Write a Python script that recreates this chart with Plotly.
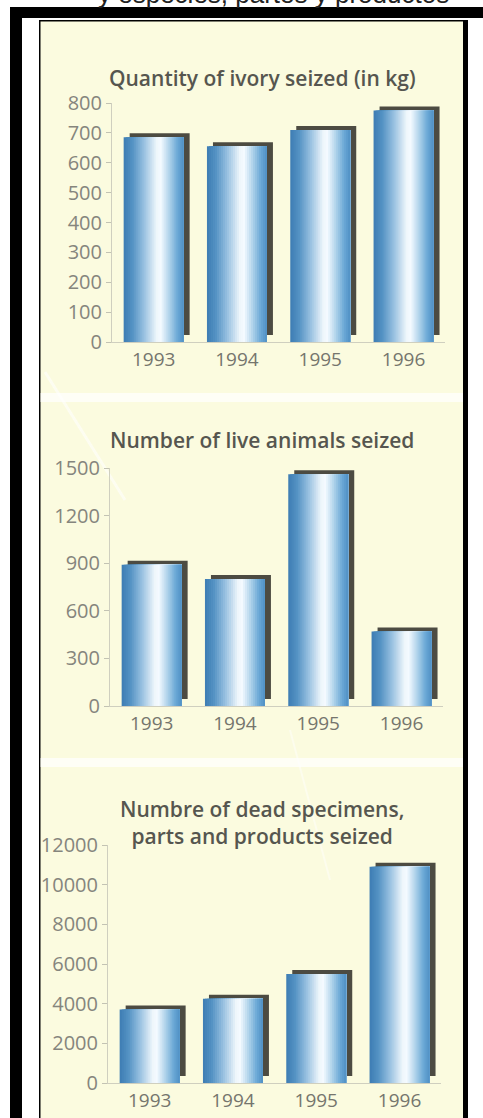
import plotly.graph_objects as go

# ---- data -------------------------------------------------------------
years = ["1993", "1994", "1995", "1996"]

ivory_kg = [685, 655, 710, 775]
live_animals = [890, 800, 1460, 470]
dead_specimens = [3700, 4250, 5500, 10900]

ivory_ticks = [0, 100, 200, 300, 400, 500, 600, 700, 800]
live_ticks = [0, 300, 600, 900, 1200, 1500]
dead_ticks = [0, 2000, 4000, 6000, 8000, 10000, 12000]

titles = [
    "Quantity of ivory seized (in kg)",
    "Number of live animals seized",
    "Numbre of dead specimens,<br>parts and products seized",
]
header_text = "y especies, partes y productos"

# ---- page geometry (pixels) ------------------------------------------
W, H = 483, 1118


def px(x):
    return x / W


def py(y):
    return 1 - y / H


# cylinder shading across each bar, left -> right
shade = [
    (0.00, (61, 125, 179)),
    (0.15, (85, 147, 196)),
    (0.35, (156, 195, 226)),
    (0.55, (238, 246, 251)),
    (0.62, (244, 250, 255)),
    (0.75, (181, 214, 236)),
    (0.90, (106, 168, 214)),
    (1.00, (79, 144, 196)),
]


def shade_at(t):
    for (t0, c0), (t1, c1) in zip(shade[:-1], shade[1:]):
        if t0 <= t <= t1:
            f = (t - t0) / (t1 - t0)
            r, g, b = (round(a + (b_ - a) * f) for a, b_ in zip(c0, c1))
            return f"rgb({r},{g},{b})"
    return "rgb(79,144,196)"


BAR_W = 0.72          # bar width in category units
SLICES = 30
SHADOW = "#4c4b42"

panels = [
    # values, ticks, y max, x axis left px, y of zero px, y of max px, title y px
    (ivory_kg, ivory_ticks, 800, 112, 342, 103, [78]),
    (live_animals, live_ticks, 1500, 110, 706, 468, [440]),
    (dead_specimens, dead_ticks, 12000, 108, 1083, 845, [810, 834]),
]

fig = go.Figure()
layout = dict(
    width=W,
    height=H,
    margin=dict(l=0, r=0, t=0, b=0, autoexpand=False),
    paper_bgcolor="white",
    plot_bgcolor="rgba(0,0,0,0)",
    showlegend=False,
    barmode="overlay",
    font=dict(family="Open Sans", color="#7c7c74"),
)

band_px = 83.3
for i, (vals, ticks, ymax, x0, y0, y1, ty) in enumerate(panels):
    n = "" if i == 0 else str(i + 1)
    xa, ya = "x" + n, "y" + n
    unit = ymax / (y0 - y1)       # data units per pixel
    dx = 6 / band_px              # shadow shift in category units

    # drop shadow: shifted right and up
    fig.add_trace(go.Bar(
        x=years, y=[v + 4 * unit - 7 * unit for v in vals],
        base=[7 * unit] * len(vals),
        width=BAR_W, offset=-BAR_W / 2 + dx,
        marker=dict(color=SHADOW, line=dict(width=0)),
        xaxis=xa, yaxis=ya, hoverinfo="skip",
    ))
    # shading: each slice runs from its left edge to the bar's right edge,
    # later slices cover earlier ones so no gaps appear between them
    step = BAR_W / SLICES
    for k in range(SLICES):
        fig.add_trace(go.Bar(
            x=years, y=vals, width=BAR_W - k * step,
            offset=-BAR_W / 2 + k * step,
            marker=dict(color=shade_at((k + 0.5) / SLICES), line=dict(width=0)),
            xaxis=xa, yaxis=ya, hoverinfo="skip",
        ))

    x_right = x0 + 4 * band_px
    layout["xaxis" + n] = dict(
        domain=[px(x0), px(x_right)], anchor=ya, type="category",
        range=[-0.5, 3.5], showline=True, linecolor="#cfcfbf", linewidth=1,
        ticks="", showgrid=False, zeroline=False, fixedrange=True,
        automargin=False, tickfont=dict(size=19, color="#75756d"),
    )
    layout["yaxis" + n] = dict(
        domain=[py(y0), py(y1)], anchor=xa, range=[0, ymax],
        tickvals=ticks, ticktext=[str(t) for t in ticks],
        ticks="outside", ticklen=5, tickcolor="#c3c3b3",
        showline=True, linecolor="#cfcfbf", linewidth=1,
        showgrid=False, zeroline=False, fixedrange=True,
        automargin=False, tickfont=dict(size=20, color="#85857d"),
    )

fig.update_layout(**layout)

# ---- frame and background --------------------------------------------
shapes = [
    # cream panel with its thin dark edge
    dict(type="rect", xref="paper", yref="paper", layer="below",
         x0=px(39), x1=px(468), y0=py(H), y1=py(20),
         fillcolor="black", line=dict(width=0)),
    dict(type="rect", xref="paper", yref="paper", layer="below",
         x0=px(40.5), x1=px(463), y0=py(H), y1=py(21.5),
         fillcolor="#fbfbdf", line=dict(width=0)),
    # soft light bands between the panels
    dict(type="rect", xref="paper", yref="paper", layer="below",
         x0=px(40.5), x1=px(463), y0=py(402), y1=py(393),
         fillcolor="rgba(255,255,255,0.7)", line=dict(width=0)),
    dict(type="rect", xref="paper", yref="paper", layer="below",
         x0=px(40.5), x1=px(463), y0=py(767), y1=py(758),
         fillcolor="rgba(255,255,255,0.7)", line=dict(width=0)),
    # faint diagonal streaks in the backdrop
    dict(type="line", xref="paper", yref="paper", layer="below",
         x0=px(45), y0=py(372), x1=px(125), y1=py(500),
         line=dict(color="rgba(255,255,255,0.55)", width=3)),
    dict(type="line", xref="paper", yref="paper", layer="below",
         x0=px(290), y0=py(730), x1=px(330), y1=py(880),
         line=dict(color="rgba(255,255,255,0.45)", width=2)),
    # heavy black border: top and left
    dict(type="rect", xref="paper", yref="paper", layer="below",
         x0=px(10), x1=px(W), y0=py(18), y1=py(7),
         fillcolor="black", line=dict(width=0)),
    dict(type="rect", xref="paper", yref="paper", layer="below",
         x0=px(10), x1=px(22), y0=py(H), y1=py(7),
         fillcolor="black", line=dict(width=0)),
]
fig.update_layout(shapes=shapes)

annotations = []
for (vals, ticks, ymax, x0, y0, y1, ty), title in zip(panels, titles):
    yc = sum(ty) / len(ty)
    annotations.append(dict(
        text=title, xref="paper", yref="paper", x=px(262), y=py(yc),
        xanchor="center", yanchor="middle", showarrow=False,
        font=dict(family="Open Sans", size=21, color="#56564f", weight=600),
    ))
# running header, cut by the top edge of the page
annotations.append(dict(
    text=header_text, xref="paper", yref="paper", x=px(273), y=py(-6),
    xanchor="center", yanchor="middle", showarrow=False,
    font=dict(family="Liberation Sans", size=26, color="#222222"),
))
fig.update_layout(annotations=annotations)

fig.write_html("out.html")
